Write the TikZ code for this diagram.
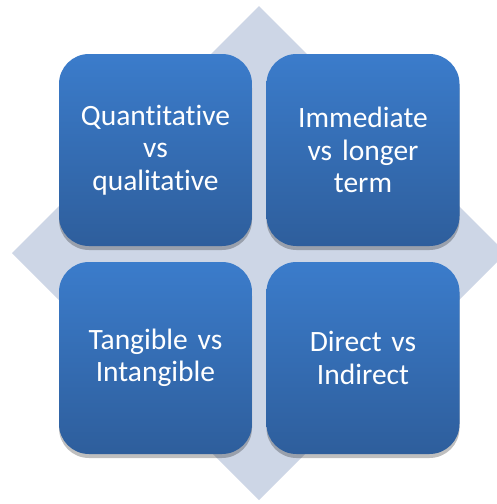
\documentclass[tikz,border=0pt]{standalone}
\usepackage{fontspec}
\setmainfont{Carlito}[Ligatures=NoCommon, WordSpace=0.8]
\usetikzlibrary{shadows}
\definecolor{diamondfill}{HTML}{CDD6E6}
\definecolor{boxtop}{HTML}{3B7CCB}
\definecolor{boxbottom}{HTML}{2E5E9C}
\begin{document}
\begin{tikzpicture}[x=1pt, y=-1pt,
    box_style/.style={rounded corners=30pt, top color=boxtop, bottom color=boxbottom,
      minimum width=193pt, minimum height=192pt, text width=180pt, align=center,
      text=white, font=\fontsize{29.5}{32.5}\selectfont,
      drop shadow={shadow xshift=0pt, shadow yshift=-4pt, opacity=0.25, fill=black}}]
  \clip (0,0) rectangle (497,504);
  \fill[white] (0,0) rectangle (497,504);
  % diamond in the back
  \fill[diamondfill] (259,6) -- (506,253) -- (259,500) -- (12,253) -- cycle;
  \node[box_style] (quant) at (155.5,150) {Quantitative\\vs\\qualitative};
  \node[box_style] (term) at (363,150) {Immediate\\vs longer\\term};
  \node[box_style] (tang) at (155.5,358) {Tangible vs\\Intangible};
  \node[box_style] (direct) at (363,358) {Direct vs\\Indirect};
\end{tikzpicture}
\end{document}
